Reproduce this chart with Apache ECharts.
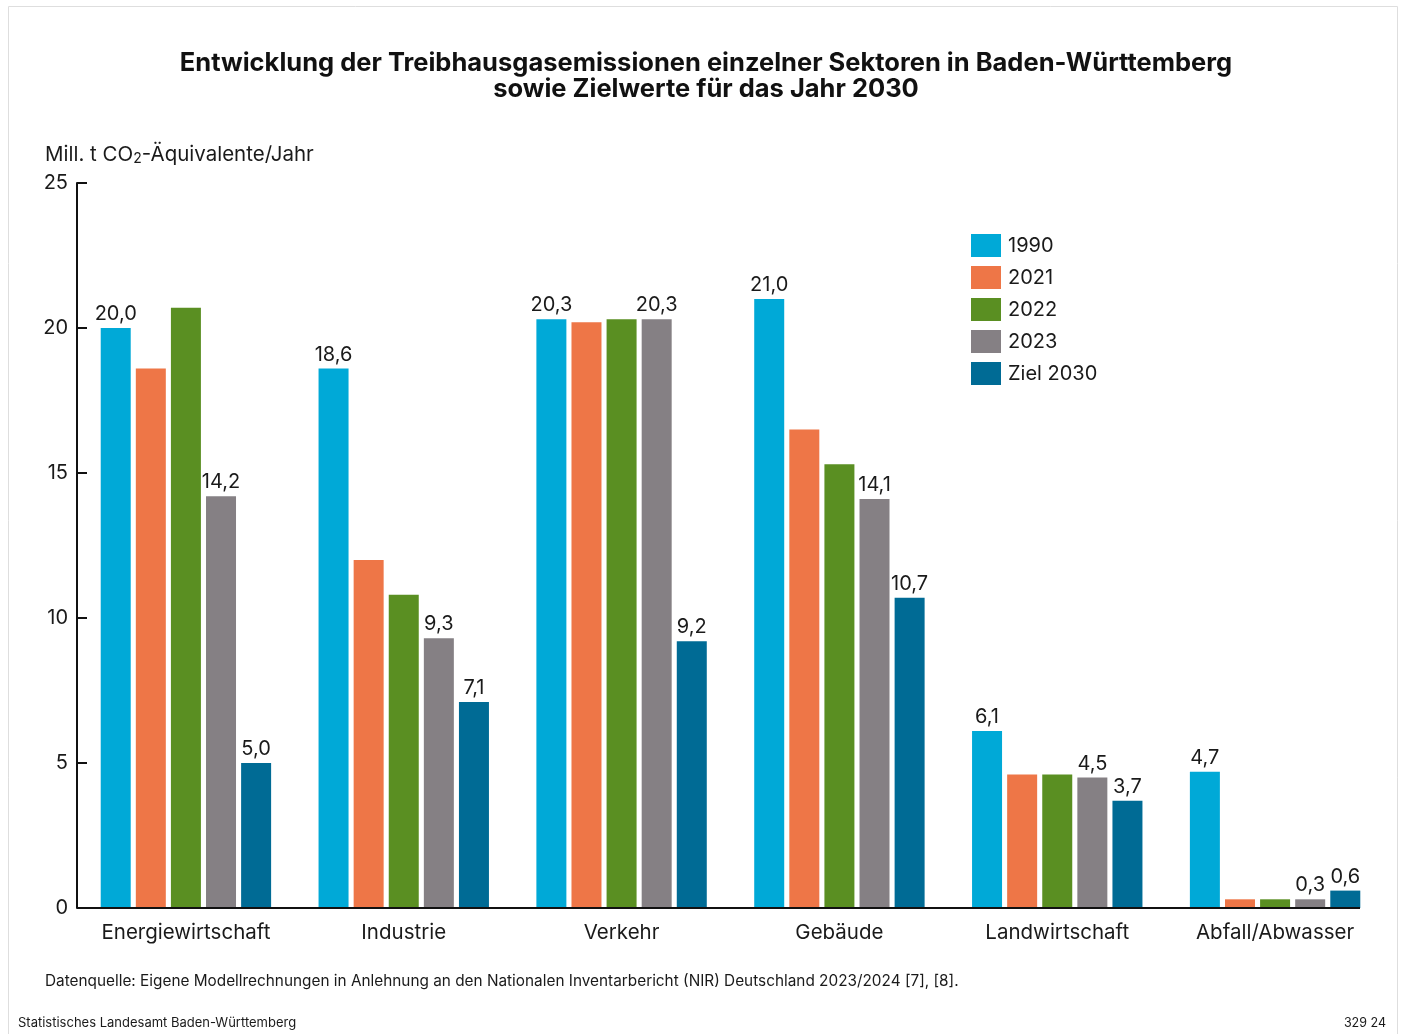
<!DOCTYPE html>
<html>
<head>
<meta charset="utf-8">
<script src="https://cdn.jsdelivr.net/npm/echarts@6/dist/echarts.min.js"></script>
<style>
  html, body { margin: 0; padding: 0; background: #fff; }
  #chart { width: 1402px; height: 1034px; }
</style>
</head>
<body>
<div id="chart"></div>
<script>
"use strict";

// sectors on the x axis
var sectors = ["Energiewirtschaft", "Industrie", "Verkehr", "Gebäude", "Landwirtschaft", "Abfall/Abwasser"];

// Mill. t CO2-Äquivalente per year
var values1990 = [20.0, 18.6, 20.3, 21.0, 6.1, 4.7];
var values2021 = [18.6, 12.0, 20.2, 16.5, 4.6, 0.3];
var values2022 = [20.7, 10.8, 20.3, 15.3, 4.6, 0.3];
var values2023 = [14.2, 9.3, 20.3, 14.1, 4.5, 0.3];
var valuesZiel = [5.0, 7.1, 9.2, 10.7, 3.7, 0.6];

var seriesNames = ["1990", "2021", "2022", "2023", "Ziel 2030"];
var seriesColors = ["#00a9d7", "#ee7647", "#5a8f22", "#858084", "#006b95"];
var seriesLabelled = [true, false, false, true, true];

var yTicks = [0, 5, 10, 15, 20, 25];

var font = "Inter, 'Noto Sans', sans-serif";

var chart = echarts.init(document.getElementById("chart"));

var allValues = [values1990, values2021, values2022, values2023, valuesZiel];

var series = allValues.map(function (vals, i) {
  return {
    name: seriesNames[i],
    type: "bar",
    data: vals,
    barWidth: 30,
    barGap: "17%",
    itemStyle: { color: seriesColors[i] },
    label: {
      show: seriesLabelled[i],
      position: "top",
      distance: 4,
      color: "#1a1a1a",
      fontFamily: font,
      fontSize: 20,
      formatter: function (p) {
        return p.value.toFixed(1).replace(".", ",");
      },
    },
  };
});

chart.setOption({
  animation: false,
  textStyle: { fontFamily: font },
  graphic: [
    {
      type: "rect",
      shape: { x: 8.5, y: 6.5, width: 1389, height: 1040 },
      style: { fill: "none", stroke: "#dedede", lineWidth: 1 },
      silent: true,
    },
    {
      // title, centred a little right of the canvas middle like the original
      type: "text",
      x: 706,
      y: 50,
      style: {
        text: "Entwicklung der Treibhausgasemissionen einzelner Sektoren in Baden-Württemberg\nsowie Zielwerte für das Jahr 2030",
        fontFamily: font,
        fontSize: 25.5,
        fontWeight: "bold",
        fill: "#111",
        lineHeight: 26,
        align: "center",
        verticalAlign: "top",
      },
    },
    {
      // x axis line only runs to the end of the last bar group
      type: "line",
      shape: { x1: 77, y1: 908, x2: 1360, y2: 908 },
      style: { stroke: "#111", lineWidth: 2 },
      z: 10,
    },
    {
      type: "text",
      left: 45,
      top: 144,
      style: {
        text: "Mill. t CO{sub|2}-Äquivalente/Jahr",
        fontFamily: font,
        fontSize: 20.5,
        fill: "#1a1a1a",
        rich: {
          sub: { fontFamily: font, fontSize: 14, fill: "#1a1a1a", verticalAlign: "bottom", padding: [8, 0, 0, 0] },
        },
      },
    },
    {
      type: "text",
      left: 45,
      top: 974,
      style: {
        text: "Datenquelle: Eigene Modellrechnungen in Anlehnung an den Nationalen Inventarbericht (NIR) Deutschland 2023/2024 [7], [8].",
        fontFamily: font,
        fontSize: 15.35,
        fill: "#1a1a1a",
      },
    },
    {
      type: "text",
      left: 18,
      top: 1017,
      style: {
        text: "Statistisches Landesamt Baden-Württemberg",
        fontFamily: font,
        fontSize: 13,
        fill: "#1a1a1a",
      },
    },
    {
      type: "text",
      right: 16,
      top: 1017,
      style: {
        text: "329 24",
        fontFamily: font,
        fontSize: 12.5,
        fill: "#1a1a1a",
      },
    },
  ],
  legend: {
    orient: "vertical",
    left: 966,
    top: 229,
    itemWidth: 30,
    itemHeight: 23,
    itemGap: 9,
    icon: "rect",
    data: seriesNames,
    textStyle: { fontFamily: font, fontSize: 20, color: "#1a1a1a", padding: [2, 0, 0, 2] },
  },
  grid: {
    left: 77,
    top: 183,
    width: 1307,
    height: 725,
    containLabel: false,
  },
  xAxis: {
    type: "category",
    data: sectors,
    axisLine: { show: false },
    axisTick: { show: false },
    axisLabel: {
      interval: 0,
      color: "#1a1a1a",
      fontFamily: font,
      fontSize: 20.5,
      margin: 14,
    },
  },
  yAxis: {
    type: "value",
    min: yTicks[0],
    max: yTicks[yTicks.length - 1],
    interval: 5,
    splitLine: { show: false },
    axisLine: { show: true, lineStyle: { color: "#111", width: 2 } },
    axisTick: { show: true, inside: true, length: 10, lineStyle: { color: "#111", width: 2 } },
    axisLabel: {
      color: "#1a1a1a",
      fontFamily: font,
      fontSize: 20,
      margin: 9,
    },
  },
  series: series,
});
</script>
</body>
</html>
